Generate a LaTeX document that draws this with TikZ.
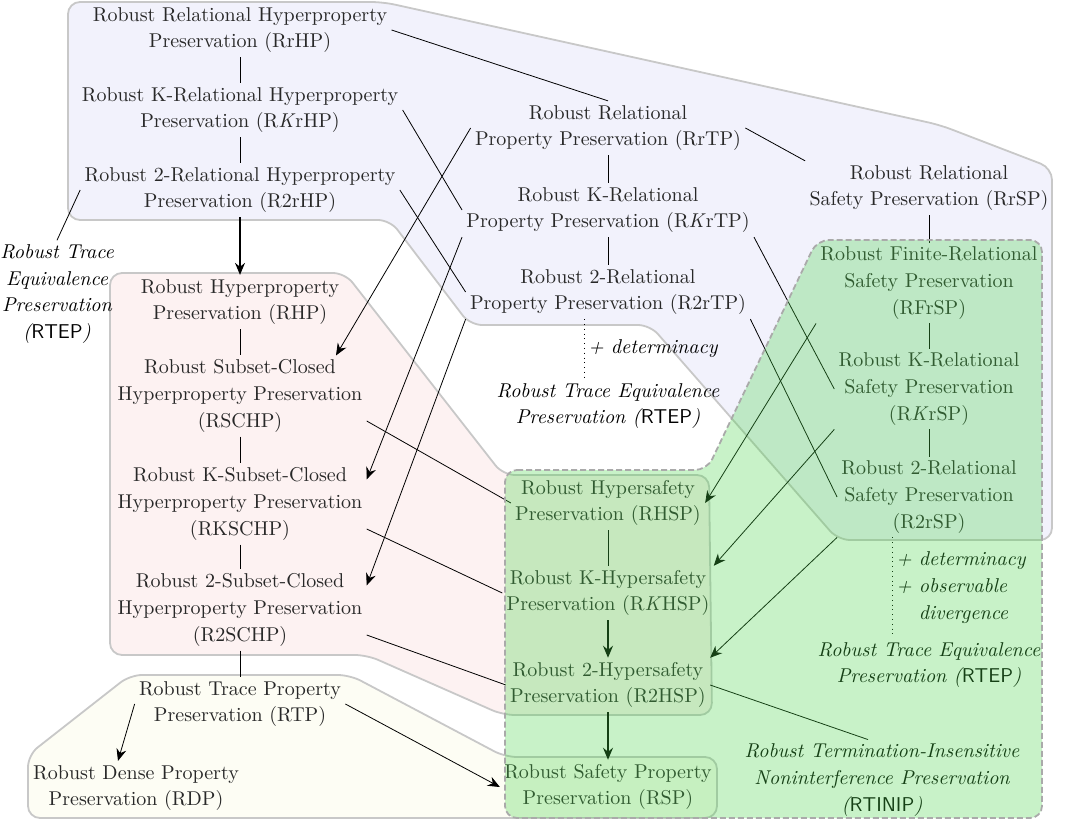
\documentclass[tikz,border=0pt]{standalone}
\usepackage{tikz}
\usetikzlibrary{arrows.meta,positioning}
\definecolor{blueArea}{RGB}{242,242,252}
\definecolor{redArea}{RGB}{253,242,242}
\definecolor{yellowArea}{RGB}{253,253,244}
\definecolor{greenArea}{RGB}{72,212,72}
\definecolor{areaLine}{RGB}{200,200,200}
\definecolor{inkText}{RGB}{40,40,40}

\begin{document}
\begin{tikzpicture}[x=0.5pt,y=-0.5pt,node distance=40pt,>={Stealth[length=6pt,width=5pt,inset=2pt]}]
	\tikzstyle{prop} = [align=center,inner sep=2pt,text=inkText,font=\fontsize{10}{13.3}\selectfont]
	\tikzstyle{note} = [align=center,inner sep=2pt,text=black,font=\fontsize{10}{13.3}\selectfont\itshape]
	\tikzstyle{area} = [draw=areaLine,line width=0.9pt,rounded corners=6pt]
	\useasboundingbox (0,0) rectangle (1069,823);
	\draw[area,fill=blueArea] (68,2) -- (383,2) -- (940,125) -- (1052,168) -- (1052,540) -- (838,540) -- (650,325) -- (470,325) -- (390,220) -- (68,220) -- cycle;
	\draw[area,fill=redArea] (110,273) -- (345,273) -- (503,475) -- (709,475) -- (712,715) -- (503,715) -- (367,655) -- (110,655) -- cycle;
	\draw[area,fill=yellowArea] (28,818) -- (28,755) -- (130,675) -- (350,675) -- (505,757) -- (717,757) -- (717,818) -- cycle;
	\node (rrhp) [prop] at (240,30) {Robust Relational Hyperproperty\\Preservation (RrHP)};
	\node (rkrhp) [prop, below of=rrhp] {Robust K-Relational Hyperproperty\\Preservation (R\textit{K}rHP)};
	\node (r2rhp) [prop, below of=rkrhp] {Robust 2-Relational Hyperproperty\\Preservation (R2rHP)};
	\node (rhp) [prop, below of=r2rhp, node distance=56pt] {Robust Hyperproperty\\Preservation (RHP)};
	\node (rschp) [prop, below of=rhp, node distance=47pt] {Robust Subset-Closed\\Hyperproperty Preservation\\(RSCHP)};
	\node (rkschp) [prop, below of=rschp, node distance=54pt] {Robust K-Subset-Closed\\Hyperproperty Preservation\\(RKSCHP)};
	\node (r2schp) [prop, below of=rkschp, node distance=53pt] {Robust 2-Subset-Closed\\Hyperproperty Preservation\\(R2SCHP)};
	\node (rtp) [prop, below of=r2schp, node distance=47pt] {Robust Trace Property\\Preservation (RTP)};
	\node (rdp) [prop] at (136,788) {Robust Dense Property\\Preservation (RDP)};
	\node (rtep1) [note] at (57,294) {Robust Trace\\Equivalence\\Preservation\\(\textsf{\upshape RTEP})};
	\node (rrtp) [prop] at (608,128) {Robust Relational\\Property Preservation (RrTP)};
	\node (rkrtp) [prop, below of=rrtp, node distance=41pt] {Robust K-Relational\\Property Preservation (R\textit{K}rTP)};
	\node (r2rtp) [prop, below of=rkrtp, node distance=41pt] {Robust 2-Relational\\Property Preservation (R2rTP)};
	\node (rtep2) [note, below of=r2rtp, node distance=57pt] {Robust Trace Equivalence\\Preservation (\textsf{\upshape RTEP})};
	\node (rhsp) [prop, below of=rtep2, node distance=48.5pt] {Robust Hypersafety\\Preservation (RHSP)};
	\node (rkhsp) [prop, below of=rhsp, node distance=45pt] {Robust K-Hypersafety\\Preservation (R\textit{K}HSP)};
	\node (r2hsp) [prop, below of=rkhsp, node distance=46pt] {Robust 2-Hypersafety\\Preservation (R2HSP)};
	\node (rsp) [prop, below of=r2hsp, node distance=51pt] {Robust Safety Property\\Preservation (RSP)};
	\node (rrsp) [prop] at (929,188) {Robust Relational\\Safety Preservation (RrSP)};
	\node (rfrsp) [prop, below of=rrsp, node distance=47.5pt] {Robust Finite-Relational\\Safety Preservation\\(RFrSP)};
	\node (rkrsp) [prop, below of=rfrsp, node distance=53pt] {Robust K-Relational\\Safety Preservation\\(R\textit{K}rSP)};
	\node (r2rsp) [prop, below of=rkrsp, node distance=54pt] {Robust 2-Relational\\Safety Preservation\\(R2rSP)};
	\node (rtep3) [note, below of=r2rsp, node distance=84pt] {Robust Trace Equivalence\\Preservation (\textsf{\upshape RTEP})};
	\node (rtinip) [note] at (882,780) {Robust Termination-Insensitive\\Noninterference Preservation\\(\textsf{\upshape RTINIP})};
	\draw (rrhp) -- (rkrhp) -- (r2rhp);
	\draw[->,semithick] (r2rhp) -- (rhp);
	\draw (rhp) -- (rschp) -- (rkschp) -- (r2schp) -- (rtp);
	\draw (rrtp) -- (rkrtp) -- (r2rtp);
	\draw (rrsp) -- (rfrsp) -- (rkrsp) -- (r2rsp);
	\draw (rhsp) -- (rkhsp);
	\draw[->,semithick] (rkhsp) -- (r2hsp);
	\draw[->,semithick] (r2hsp) -- (rsp);
	\draw (rrhp.east) -- (rrtp.north);
	\draw (rkrhp.east) -- (rkrtp.west);
	\draw (r2rhp.east) -- (r2rtp.west);
	\draw (rrtp.east) -- (rrsp.north west);
	\draw (rkrtp.south east) -- (rkrsp.west);
	\draw (r2rtp.south east) -- (r2rsp.west);
	\draw[->] (rrtp.west) -- ([xshift=48pt]rschp.north);
	\draw[->] (rkrtp.south west) -- (rkschp.11);
	\draw[->] (r2rtp.south west) -- (r2schp.11);
	\draw[->] (rfrsp.south west) -- (rhsp.east);
	\draw[->] (rkrsp.south west) -- (rkhsp.north east);
	\draw[->] (r2rsp.south west) -- (r2hsp.north east);
	\draw ([yshift=-12.5pt]rschp.east) -- (rhsp.west);
	\draw ([yshift=-12.5pt]rkschp.east) -- (rkhsp.west);
	\draw ([yshift=-12.5pt]r2schp.east) -- (r2hsp.west);
	\draw (r2hsp.east) -- ([xshift=-7pt]rtinip.north);
	\draw[->] (rtp.west) -- ([xshift=-9pt]rdp.north);
	\draw[->] (rtp.east) -- (rsp.west);
	\draw (r2rhp.west) -- (rtep1.north);
	\draw[dotted] ([xshift=-12pt]r2rtp.south) -- node[note,right] {+ determinacy} ([xshift=-12pt]rtep2.north);
	\draw[dotted] ([xshift=-18.5pt]r2rsp.south) -- node[note,right,align=left] {+ determinacy\\+ observable\\\phantom{+} divergence} ([xshift=-18.5pt]rtep3.north);
	\draw[area,dash pattern=on 3pt off 1.5pt,draw=areaLine!85!black,fill=greenArea,fill opacity=0.3] (505,470) -- (707,470) -- (817,240) -- (1042,240) -- (1042,818) -- (505,818) -- cycle;
\end{tikzpicture}
\end{document}
